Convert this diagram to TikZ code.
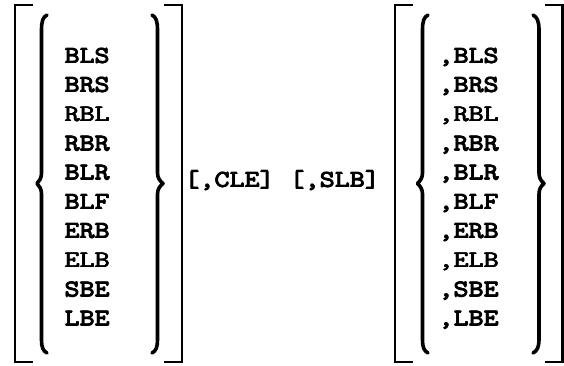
\documentclass[tikz,border=0pt]{standalone}
\newcommand{\heavytext}[1]{\scalebox{1.24}[1]{\rlap{#1}\rlap{\kern0.4pt#1}\rlap{\kern0.8pt#1}\rlap{\kern0.4pt\raisebox{0.4pt}{#1}}\kern0.4pt\raisebox{-0.4pt}{#1}\kern0.4pt}}
\begin{document}
\begin{tikzpicture}[line cap=round, line join=round, x=1pt, y=-1pt, font=\ttfamily\fontsize{23.5}{23.5}\selectfont]
			\tikzset{word/.style={anchor=base west, inner sep=0pt},
				bracket/.style={line width=2.2pt, line cap=rect, line join=miter},
				brace/.style={line width=3.6pt}}
			\useasboundingbox (0,0) rectangle (564,365);
			% first group
			\draw[bracket] (32,5)--(15,5)--(15,362)--(32,362);
			\draw[bracket] (165,5)--(182,5)--(182,362)--(165,362);
			\draw[brace] (47,15) .. controls (43,17) and (41.5,21) .. (41.5,30)--(41.5,173) .. controls (41.5,178) and (39.5,181) .. (37,183.5) .. controls (39.5,186) and (41.5,189) .. (41.5,194)--(41.5,340) .. controls (41.5,347) and (43,351) .. (47,353);
			\draw[brace] (152,15) .. controls (156,17) and (157.5,21) .. (157.5,30)--(157.5,173) .. controls (157.5,178) and (160,181) .. (163,183.5) .. controls (160,186) and (157.5,189) .. (157.5,194)--(157.5,340) .. controls (157.5,347) and (156,351) .. (152,353);
			\foreach \w [count=\i] in {BLS,BRS,RBL,RBR,BLR,BLF,ERB,ELB,SBE,LBE}
				\node[word] (l\i) at (64,{63+29.2*(\i-1)}) {\heavytext{\w}};
			% options
			\node[word] (opt) at (184,187) {\heavytext{[,CLE] [,SLB]}};
			% second group
			\draw[bracket] (412,5)--(395,5)--(395,362)--(412,362);
			\draw[bracket] (546,5)--(562.5,5)--(562.5,362)--(546,362);
			\draw[brace] (428,15) .. controls (424,17) and (422.5,21) .. (422.5,30)--(422.5,173) .. controls (422.5,178) and (420,181) .. (417.5,183.5) .. controls (420,186) and (422.5,189) .. (422.5,194)--(422.5,340) .. controls (422.5,347) and (424,351) .. (428,353);
			\draw[brace] (533,15) .. controls (537,17) and (539,21) .. (539,30)--(539,173) .. controls (539,178) and (541,181) .. (544,183.5) .. controls (541,186) and (539,189) .. (539,194)--(539,340) .. controls (539,347) and (537,351) .. (533,353);
			\foreach \w [count=\i] in {BLS,BRS,RBL,RBR,BLR,BLF,ERB,ELB,SBE,LBE}
				\node[word] (r\i) at (438,{63+29.2*(\i-1)}) {\heavytext{,\w}};
		\end{tikzpicture}
\end{document}
